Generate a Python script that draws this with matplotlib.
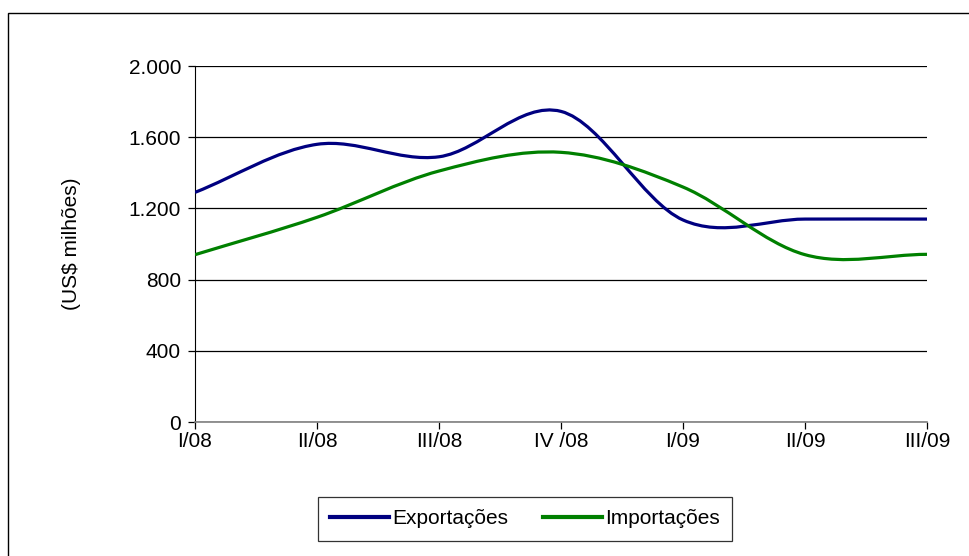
import numpy as np
import matplotlib.pyplot as plt
from matplotlib.path import Path
from matplotlib.patches import PathPatch, Rectangle
from matplotlib.lines import Line2D

plt.rcParams['font.family'] = ['Liberation Sans', 'DejaVu Sans']

# Data (US$ milhões, quarterly)
quarters = ['I/08', 'II/08', 'III/08', 'IV /08', 'I/09', 'II/09', 'III/09']
exportacoes = [1290, 1560, 1490, 1745, 1135, 1140, 1140]
importacoes = [940, 1150, 1410, 1515, 1320, 940, 942]
yticks = [0, 400, 800, 1200, 1600, 2000]
ytick_labels = ['0', '400', '800', '1.200', '1.600', '2.000']


def smooth_path(y):
    # Excel-like smoothed line: cubic Bezier, Catmull-Rom style control points
    y = np.asarray(y, dtype=float)
    x = np.arange(len(y), dtype=float)
    n = len(y)
    m = np.zeros(n)
    m[1:-1] = (y[2:] - y[:-2]) / 2
    m[0] = y[1] - y[0]
    m[-1] = y[-1] - y[-2]
    verts = [(x[0], y[0])]
    codes = [Path.MOVETO]
    for i in range(n - 1):
        verts += [(x[i] + 1/3, y[i] + m[i] / 3),
                  (x[i+1] - 1/3, y[i+1] - m[i+1] / 3),
                  (x[i+1], y[i+1])]
        codes += [Path.CURVE4] * 3
    return Path(verts, codes)


fig = plt.figure(figsize=(9.7, 5.56), dpi=100)
ax = fig.add_axes([195/970, 1 - 422/556, (927-195)/970, (422-66)/556])

blue = '#000080'
green = '#008000'
lw = 2.3
for vals, col in [(exportacoes, blue), (importacoes, green)]:
    ax.add_patch(PathPatch(smooth_path(vals), facecolor='none', edgecolor=col,
                           lw=lw, capstyle='butt', joinstyle='round', zorder=3))

ax.set_xlim(0, len(quarters) - 1)
ax.set_ylim(0, 2000)
ax.set_xticks(range(len(quarters)))
ax.set_xticklabels(quarters)
ax.set_yticks(yticks)
ax.set_yticklabels(ytick_labels)
ax.yaxis.grid(True, color='black', lw=0.9)
ax.set_axisbelow(True)

for s in ['top', 'right']:
    ax.spines[s].set_visible(False)
ax.spines['left'].set_color('black')
ax.spines['bottom'].set_color('#808080')
ax.spines['bottom'].set_linewidth(1.2)
ax.tick_params(axis='both', direction='out', length=5, width=0.9, labelsize=15)
ax.tick_params(axis='y', pad=5)
ax.tick_params(axis='x', pad=2, colors='black')

ax.set_ylabel('(US$ milhões)', fontsize=15, labelpad=34)

handles = [Line2D([], [], color=blue, lw=3),
           Line2D([], [], color=green, lw=3)]
leg = fig.legend(handles, ['Exportações', 'Importações'], loc='center',
                 bbox_to_anchor=(525/970, 1 - 518.5/556), ncol=2, fontsize=15,
                 frameon=True, fancybox=False, edgecolor='black',
                 handlelength=2.8, handletextpad=0.15, columnspacing=1.7,
                 borderpad=0.6, borderaxespad=0)
leg.get_frame().set_linewidth(0.9)

# outer chart frame (only left and top visible)
fig.patches.append(Rectangle((8/970, -0.1), 1.2, 1 - 13/556 + 0.1,
                             transform=fig.transFigure, fill=False,
                             edgecolor='black', lw=1))

fig.savefig('out.png', dpi=100)
